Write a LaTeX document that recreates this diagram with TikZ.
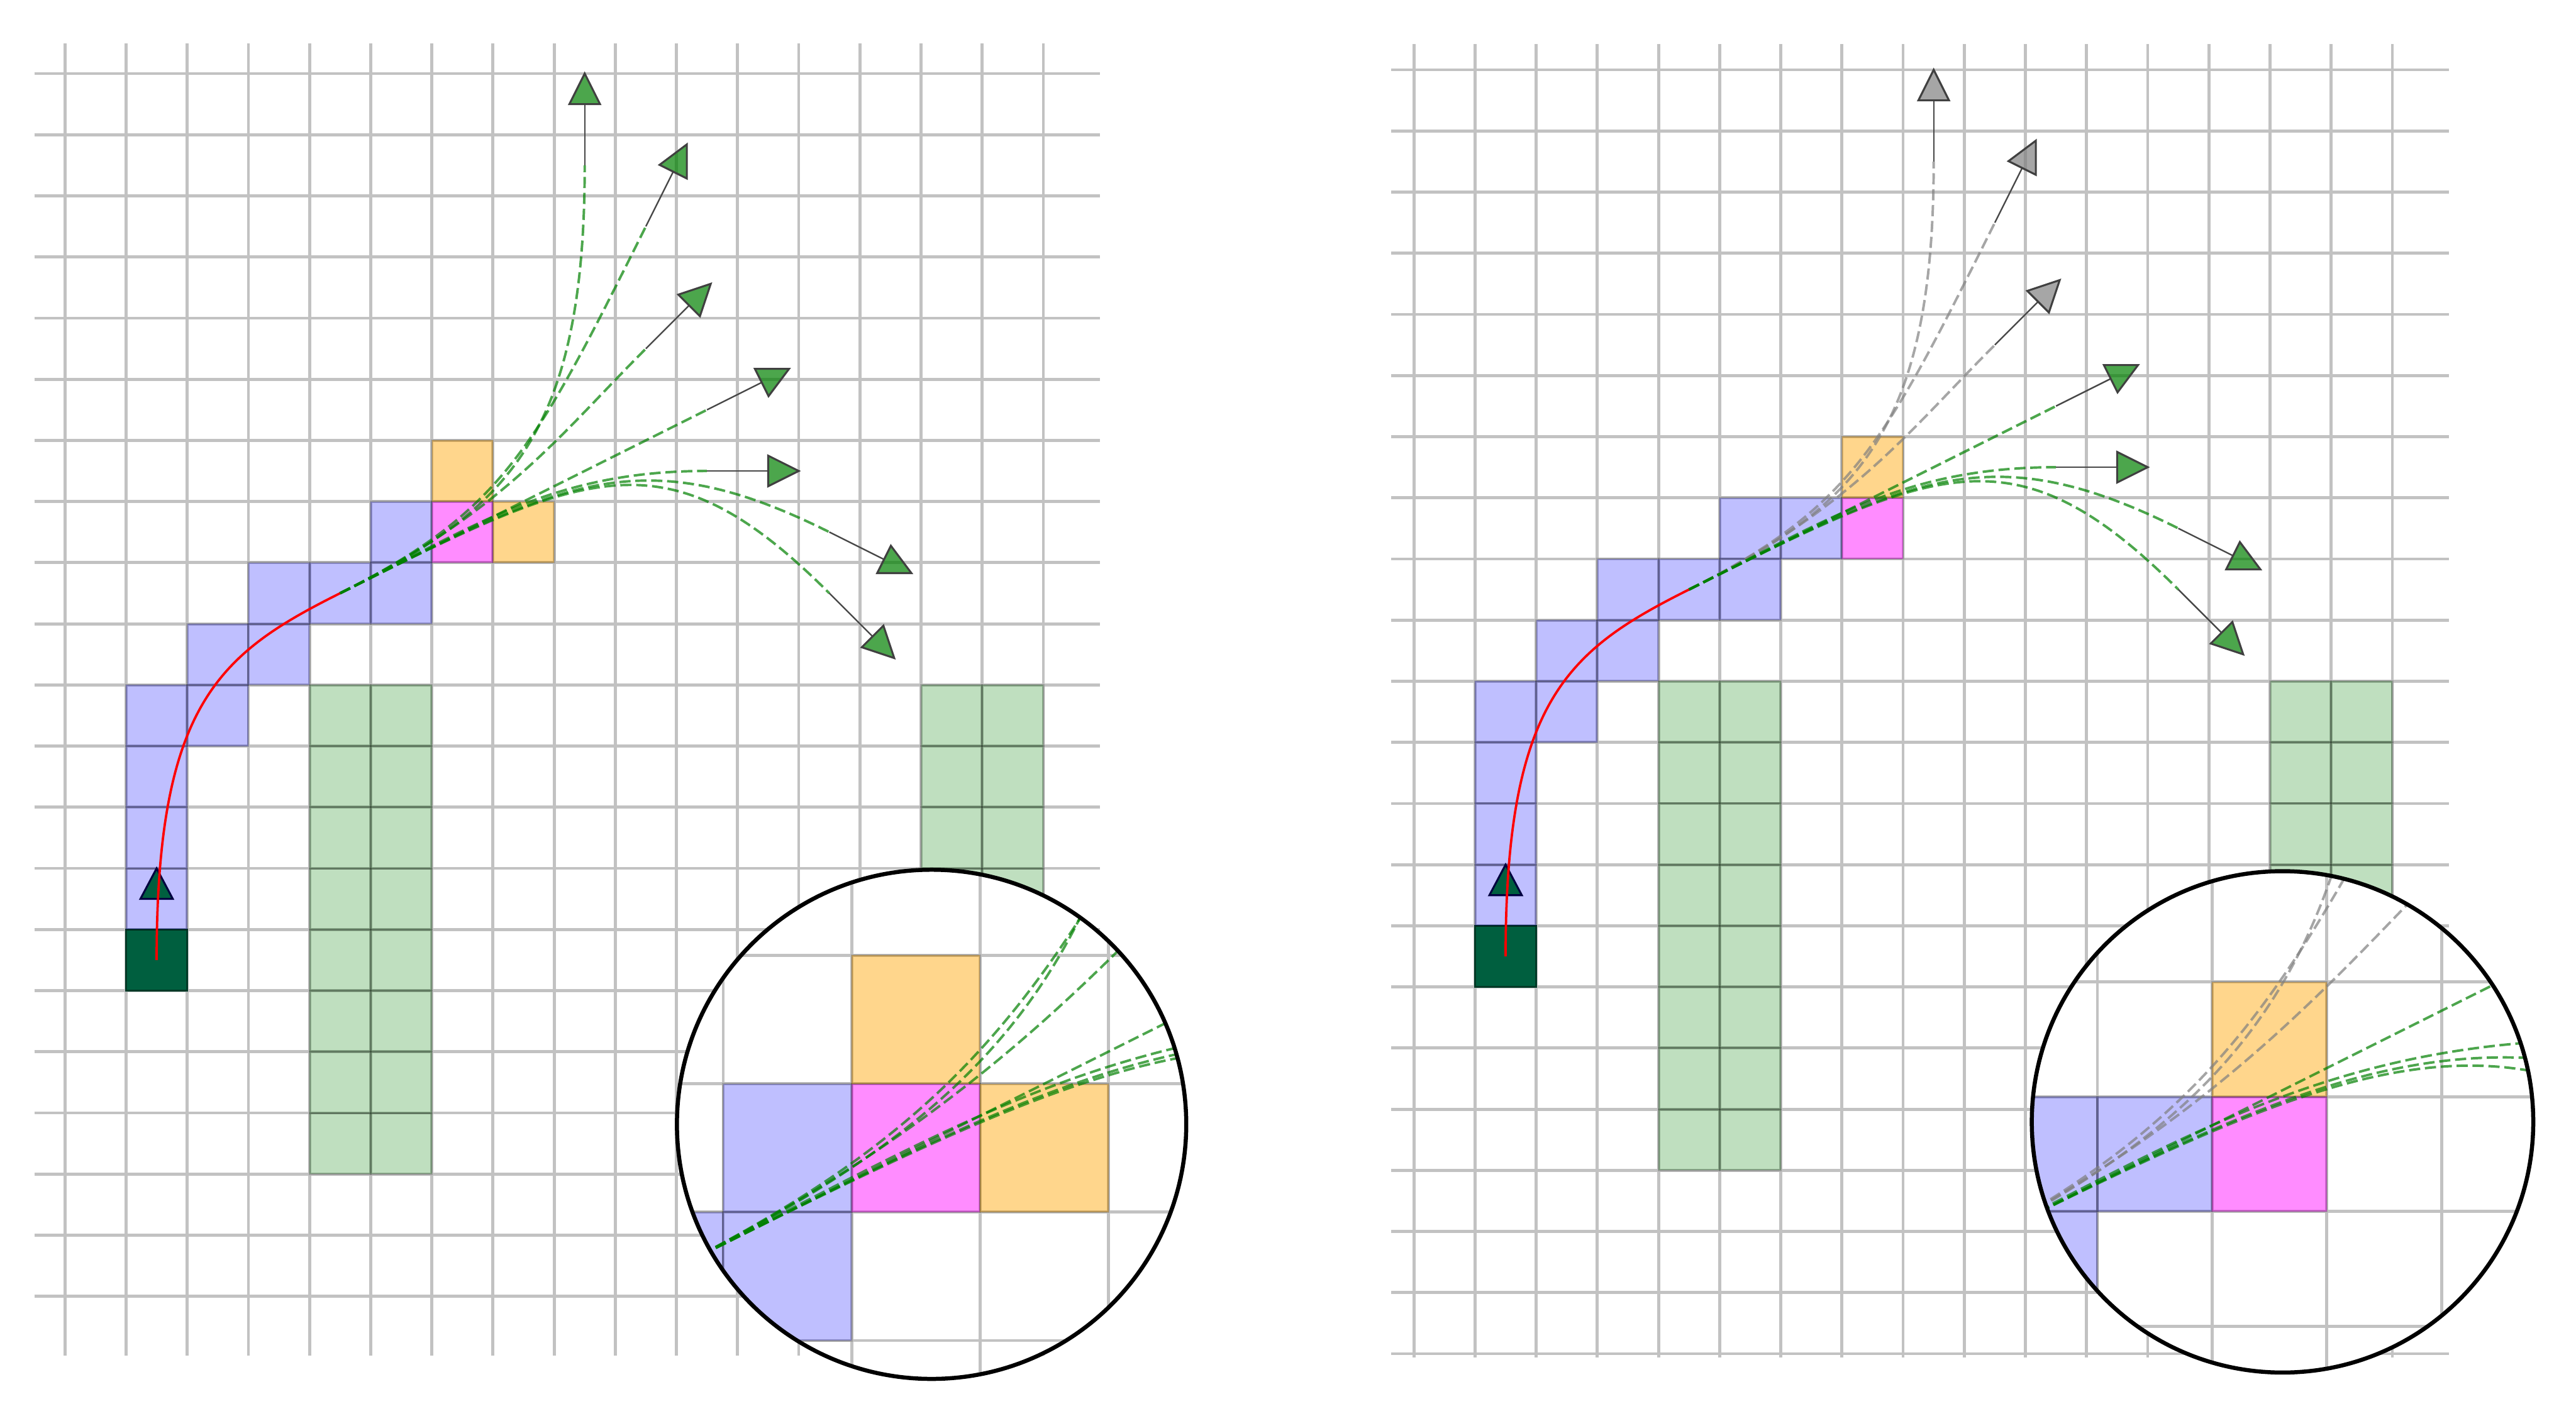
\documentclass[tikz,border=0pt]{standalone}
\usetikzlibrary{calc}
\definecolor{mplGreen}{RGB}{0,128,0}
\definecolor{mplOrange}{RGB}{255,165,0}
\definecolor{mplMagenta}{RGB}{255,0,255}
\definecolor{mplBlue}{RGB}{0,0,255}
\definecolor{mplGray}{RGB}{128,128,128}
\definecolor{startGreen}{RGB}{0,95,63}
\definecolor{markNavy}{RGB}{0,0,64}

% grid: left end, lowest row, bottom and top of the columns
\newcommand{\mapgrid}[4]{%
  \foreach \gx in {0,...,16} \draw[gridline] (\gx,#3) -- (\gx,#4);
  \foreach \gy in {#2,...,21} \draw[gridline] (#1,\gy) -- (16.93,\gy);
}

% cells shared by both panels
\newcommand{\mapcells}{%
  \foreach \cx in {4,5,14,15}
    \foreach \cy in {3,...,10}
      \draw[wallcell] (\cx,\cy) rectangle ++(1,1);
  \draw[startcell] (1,6) rectangle ++(1,1);
  \foreach \cx/\cy in {1/7,1/8,1/9,1/10,2/10,2/11,3/11,3/12,4/12,5/12,5/13}
    \draw[seencell] (\cx,\cy) rectangle ++(1,1);
}

% start heading, driven path and candidate primitives (#1 = colour of the upper three)
\newcommand{\mapmotion}[1]{%
  \draw[startmark] (1.5,8) -- (1.235,7.5) -- (1.765,7.5) -- cycle;
  \draw[trace] (1.5,6.5) .. controls (1.5,10.7) and (2.533,11.516) .. (4.5,12.5);
  \foreach \ex/\ey/\ang/\la/\lb/\col in {8.5/19.5/90/3/4.5/#1, 9.5/18.5/63.435/3/4/#1,
      9.5/16.5/45/3/2/#1, 10.5/15.5/26.565/2/2/mplGreen, 10.5/14.5/0/2.5/2.5/mplGreen,
      12.5/13.5/-26.565/4/3.5/mplGreen, 12.5/12.5/-45/4.5/3.8/mplGreen}
  {
    \draw[cand=\col] (4.5,12.5) .. controls +(26.565:\la) and +(\ang+180:\lb) .. (\ex,\ey);
    \begin{scope}[shift={(\ex,\ey)}, rotate=\ang]
      \draw[shaft] (0,0) -- (1,0);
      \filldraw[head=\col] (1,0.25) -- (1.5,0) -- (1,-0.25) -- cycle;
    \end{scope}
  }
}

\newcommand{\leftmap}{%
  \mapgrid{-0.5}{1}{0.03}{21.49}
  \mapcells
  \draw[curcell] (6,13) rectangle ++(1,1);
  \foreach \cx/\cy in {6/14,7/13} \draw[opencell] (\cx,\cy) rectangle ++(1,1);
  \mapmotion{mplGreen}
}

\newcommand{\rightmap}{%
  \mapgrid{-0.37}{0}{-0.056}{21.42}
  \mapcells
  \draw[seencell] (6,13) rectangle ++(1,1);
  \draw[curcell] (7,13) rectangle ++(1,1);
  \draw[opencell] (7,14) rectangle ++(1,1);
  \mapmotion{mplGray}
}

\begin{document}
\begin{tikzpicture}[
  gridline/.style={draw=black!24, line width=1.4pt},
  cellbase/.style={draw=black, draw opacity=0.18, line width=0.9pt},
  seencell/.style={cellbase, fill=mplBlue, fill opacity=0.25},
  curcell/.style={cellbase, fill=mplMagenta, fill opacity=0.45},
  opencell/.style={cellbase, fill=mplOrange, fill opacity=0.45},
  wallcell/.style={cellbase, fill=mplGreen, fill opacity=0.25},
  startcell/.style={fill=startGreen, draw=startGreen!60!black, line width=0.9pt},
  startmark/.style={fill=startGreen, draw=markNavy, line width=0.9pt},
  trace/.style={draw=red, line width=1.1pt},
  cand/.style={draw=#1, draw opacity=0.7, line width=1.15pt, dash pattern=on 5.2pt off 2.2pt},
  shaft/.style={draw=black!72, line width=0.7pt},
  head/.style={fill=#1, fill opacity=0.7, draw=black!75, line width=0.9pt},
  lens/.style={draw=black, line width=1.9pt},
]
\useasboundingbox (0,0) rectangle (42.122,23.232);

% === Left panel ===
\begin{scope}[shift={(1.061,1.029)}]
  \leftmap
\end{scope}

% magnified view
\fill[white] (15.233,4.843) circle (4.164);
\begin{scope}
  \clip (15.233,4.843) circle (4.164);
  \begin{scope}[shift={(1.3255,-23.894)}, scale=2.1]
    \leftmap
  \end{scope}
\end{scope}
\draw[lens] (15.233,4.843) circle (4.164);

% === Right panel ===
\begin{scope}[shift={(23.119,1.090)}]
  \rightmap
\end{scope}

% magnified view
\fill[white] (37.323,4.883) circle (4.10);
\begin{scope}
  \clip (37.323,4.883) circle (4.10);
  \begin{scope}[shift={(23.040,-20.970)}, scale=1.876]
    \rightmap
  \end{scope}
\end{scope}
\draw[lens] (37.323,4.883) circle (4.10);

\end{tikzpicture}
\end{document}
